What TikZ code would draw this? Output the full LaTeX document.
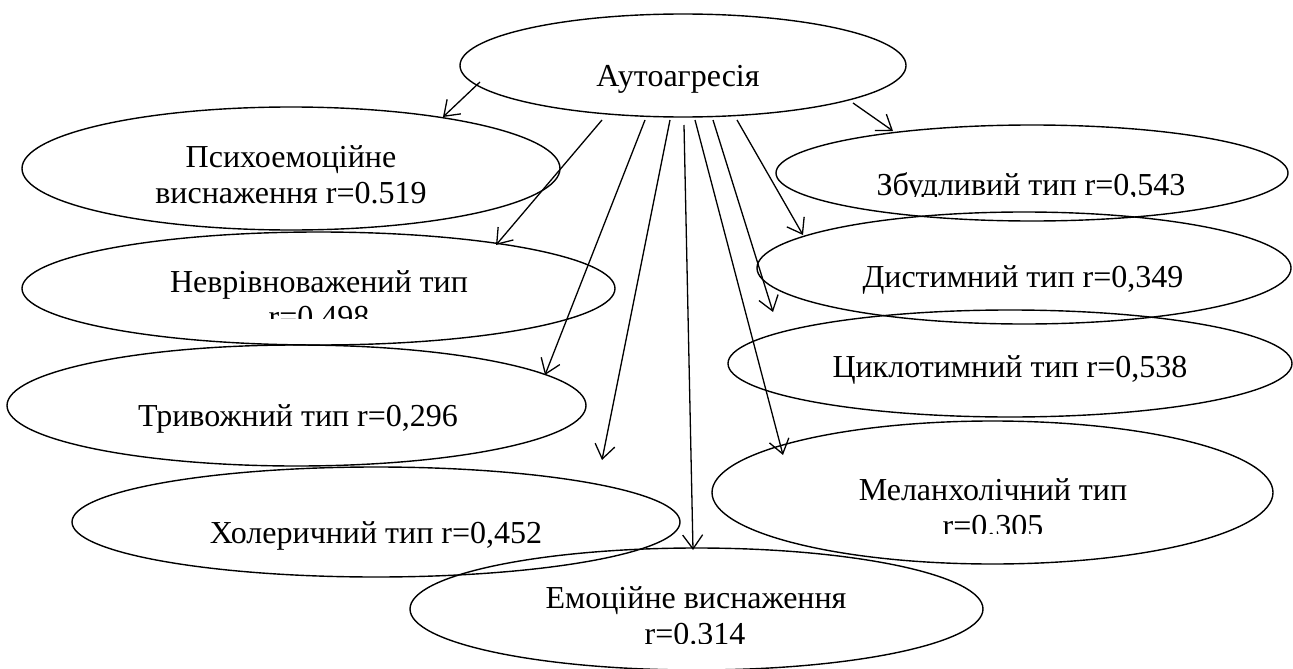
\documentclass[tikz,border=0pt]{standalone}
\usepackage{fontspec}
\setmainfont{Liberation Serif}
\newfontfamily\tnrfont{Liberation Serif}
\usetikzlibrary{shapes.geometric,arrows.meta}
\begin{document}
\begin{tikzpicture}[x=1pt,y=-1pt,
  ell/.style={draw, ellipse, line width=1.4pt, inner sep=0pt},
  lbl/.style={anchor=base, inner sep=0pt, font=\tnrfont\fontsize{32}{36}\selectfont},
  arr/.style={-{Straight Barb[length=14pt,width=20pt,line width=1.3pt]}, line width=1.3pt}]
\useasboundingbox (0,0) rectangle (1293,669);
% ellipses
\node[ell, minimum width=446pt, minimum height=103pt] (A) at (683,65.5) {};
\node[ell, minimum width=538pt, minimum height=123pt] (P) at (291,168.5) {};
\node[ell, minimum width=593pt, minimum height=113pt] (N) at (318.5,288.5) {};
\node[ell, minimum width=579pt, minimum height=121pt] (T) at (296.5,405.5) {};
\node[ell, minimum width=608pt, minimum height=110pt] (X) at (376,522) {};
\node[ell, minimum width=573pt, minimum height=122pt] (E) at (696.5,609) {};
\node[ell, minimum width=512pt, minimum height=96pt] (Z) at (1032,173) {};
\node[ell, minimum width=534pt, minimum height=112pt] (D) at (1024,268) {};
\node[ell, minimum width=564pt, minimum height=107pt] (C) at (1010,363.5) {};
\node[ell, minimum width=561pt, minimum height=143pt] (M) at (992.5,492.5) {};
% labels
\node[lbl] (tA) at (678,87) {Аутоагресія};
\node[lbl] (tP1) at (291,167) {Психоемоційне};
\node[lbl] (tP2) at (291,203) {виснаження r=0.519};
\node[lbl] (tN1) at (319,292) {Неврівноважений тип};
\begin{scope}
  \clip (200,300) rectangle (450,318);
  \node[lbl] (tN2) at (319,327) {r=0.498};
\end{scope}
\node[lbl] (tT) at (298,426) {Тривожний тип r=0,296};
\node[lbl] (tX) at (376,543) {Холеричний тип r=0,452};
\node[lbl] (tE1) at (696,608) {Емоційне виснаження};
\begin{scope}
  \clip (600,615) rectangle (800,643);
  \node[lbl] (tE2) at (695,644) {r=0.314};
\end{scope}
\begin{scope}
  \clip (850,150) rectangle (1220,196);
  \node[lbl] (tZ) at (1031,195) {Збудливий тип r=0,543};
\end{scope}
\node[lbl] (tD) at (1023,287) {Дистимний тип r=0,349};
\node[lbl] (tC) at (1010,377) {Циклотимний тип r=0,538};
\node[lbl] (tM1) at (993,500) {Меланхолічний тип};
\begin{scope}
  \clip (900,505) rectangle (1100,533);
  \node[lbl] (tM2) at (993,536) {r=0.305};
\end{scope}
% arrow end points
\coordinate (sP) at (480,82);   \coordinate (eP) at (443,117);
\coordinate (sN) at (602,120);  \coordinate (eN) at (496,245);
\coordinate (sT) at (645,120);  \coordinate (eT) at (545,375);
\coordinate (sX) at (670,120);  \coordinate (eX) at (602,460);
\coordinate (sE) at (684,125);  \coordinate (eE) at (693,550);
\coordinate (sM) at (695,120);  \coordinate (eM) at (783,455);
\coordinate (sC) at (713,120);  \coordinate (eC) at (773,312);
\coordinate (sD) at (737,120);  \coordinate (eD) at (803,235);
\coordinate (sZ) at (853,103);  \coordinate (eZ) at (893,131);
\draw[arr] (sP) -- (eP);
\draw[arr] (sN) -- (eN);
\draw[arr] (sT) -- (eT);
\draw[arr] (sX) -- (eX);
\draw[arr] (sE) -- (eE);
\draw[arr] (sM) -- (eM);
\draw[arr] (sC) -- (eC);
\draw[arr] (sD) -- (eD);
\draw[arr] (sZ) -- (eZ);
\end{tikzpicture}
\end{document}
